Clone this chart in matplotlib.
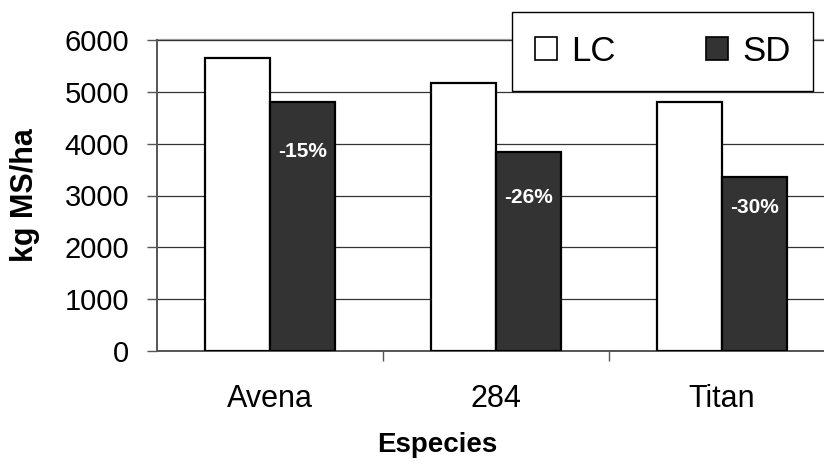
import numpy as np
import matplotlib.pyplot as plt
from matplotlib.patches import Patch

plt.rcParams['font.family'] = ['Liberation Sans', 'DejaVu Sans']

especies = ["Avena", "284", "Titan"]
lc = [5650, 5180, 4800]
sd = [4800, 3830, 3350]
# altura donde va cada etiqueta de diferencia
y_etiqueta = [3840, 2970, 2760]

color_lc = "white"
color_sd = "#333333"

fig = plt.figure(figsize=(8.24, 4.68), dpi=100)
W, H = 824, 468
ax = fig.add_axes([157 / W, (H - 351) / H, (835 - 157) / W, (351 - 40) / H])

x = np.arange(len(especies))
ancho = 0.288

ax.bar(x - ancho / 2, lc, ancho, color=color_lc, edgecolor="black", linewidth=1.6, zorder=3)
ax.bar(x + ancho / 2, sd, ancho, color=color_sd, edgecolor="black", linewidth=1.6, zorder=3)

for i in range(len(especies)):
    dif = round((sd[i] - lc[i]) / lc[i] * 100)
    ax.text(x[i] + ancho / 2, y_etiqueta[i], f"{dif}%", color="white",
            fontsize=15, fontweight="bold", ha="center", va="center", zorder=4)

ax.set_xlim(-0.5, 2.5)
ax.set_ylim(0, 6000)
ax.set_yticks(range(0, 6001, 1000))
ax.yaxis.grid(True, color="#333333", linewidth=0.9, zorder=0)
ax.axhline(6000, color="#999999", linewidth=1.6, zorder=1, clip_on=False)

for s in ["top", "right"]:
    ax.spines[s].set_visible(False)
ax.spines["left"].set_color("#555555")
ax.spines["left"].set_linewidth(1.4)
ax.spines["bottom"].set_color("#555555")
ax.spines["bottom"].set_linewidth(1.4)

ax.set_xticks(x)
ax.set_xticklabels(especies)
ax.set_xticks([0.5, 1.5], minor=True)
ax.tick_params(axis="x", which="major", length=0, pad=24, labelsize=22)
ax.tick_params(axis="x", which="minor", length=7, width=1, color="#555555", direction="out")
ax.tick_params(axis="y", length=7, width=1, color="#555555", direction="out", pad=13, labelsize=21)

fig.text(437 / W, 1 - 445 / H, "Especies", fontsize=20, fontweight="bold", ha="center", va="center")
fig.text(25 / W, 1 - 195 / H, "kg MS/ha", fontsize=22, fontweight="bold", ha="center", va="center",
         rotation=90)

handles = [Patch(facecolor=color_lc, edgecolor="black", linewidth=1.2),
           Patch(facecolor=color_sd, edgecolor="black", linewidth=1.2)]
leg = fig.legend(handles, ["LC", "SD"], ncol=2, loc="center",
                 bbox_to_anchor=(513 / W, 1 - 90 / H, (812 - 513) / W, (90 - 13) / H),
                 fontsize=25, frameon=True, fancybox=False, framealpha=1,
                 edgecolor="black", handlelength=0.65, handleheight=0.65, handletextpad=0.4,
                 columnspacing=2.6, borderpad=0.66, borderaxespad=0)
leg.get_frame().set_linewidth(1.0)

fig.savefig("out.png", dpi=100)
